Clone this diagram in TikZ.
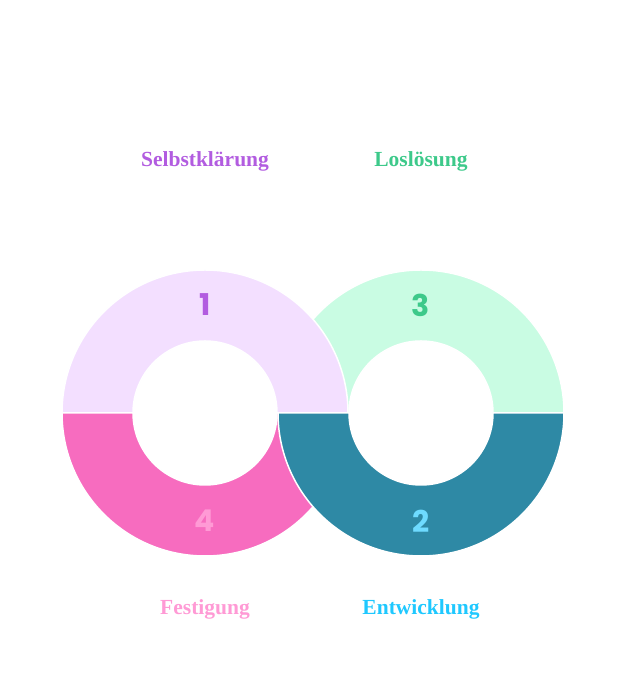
\documentclass[tikz,border=0pt]{standalone}
\usepackage{fontspec}
\setmainfont{Liberation Serif}
\newfontfamily\numfont{Poppins}
\definecolor{lavender}{HTML}{F3DFFF}
\definecolor{hotpink}{HTML}{F76CBF}
\definecolor{mint}{HTML}{C9FCE3}
\definecolor{teal}{HTML}{2E89A5}
\definecolor{purpletext}{HTML}{B25CE0}
\definecolor{greentext}{HTML}{3DC98A}
\definecolor{pinktext}{HTML}{FF9AD5}
\definecolor{bluetext}{HTML}{1FC8FF}
\definecolor{lightblue}{HTML}{6EDBFF}
\begin{document}
\begin{tikzpicture}[x=1pt,y=1pt,
  seg/.style={draw=white,line width=1.5pt},
  title/.style={anchor=base,font=\bfseries\fontsize{21.5}{24}\selectfont},
  num/.style={font=\numfont\bfseries\fontsize{30}{32}\selectfont}]
\useasboundingbox (0,0) rectangle (626,700);
\coordinate (L) at (205,287);
\coordinate (R) at (421,287);

% right ring, top
\draw[seg,fill=mint] (R) ++(143pt,0) arc (0:180:143pt) -- ++(71pt,0) arc (180:0:72pt) -- cycle;
% left ring, top
\draw[seg,fill=lavender] (L) ++(143pt,0) arc (0:180:143pt) -- ++(71pt,0) arc (180:0:72pt) -- cycle;
% left ring, bottom
\draw[seg,fill=hotpink] (L) ++(-143pt,0) arc (180:360:143pt) -- ++(-71pt,0) arc (360:180:72pt) -- cycle;
% right ring, bottom
\draw[seg,fill=teal] (R) ++(-143pt,0) arc (180:360:143pt) -- ++(-71pt,0) arc (360:180:72pt) -- cycle;

\node[num,text=purpletext] (one) at (205,395) {1};
\node[num,text=greentext] (three) at (421,395) {3};
\node[num,text=pinktext] (four) at (205,179) {4};
\node[num,text=lightblue] (two) at (421,179) {2};

\node[title,text=purpletext] (selbst) at (205,533) {Selbstklärung};
\node[title,text=greentext] (los) at (421,533) {Loslösung};
\node[title,text=pinktext] (fest) at (205,85) {Festigung};
\node[title,text=bluetext] (entw) at (421,85) {Entwicklung};
\end{tikzpicture}
\end{document}
